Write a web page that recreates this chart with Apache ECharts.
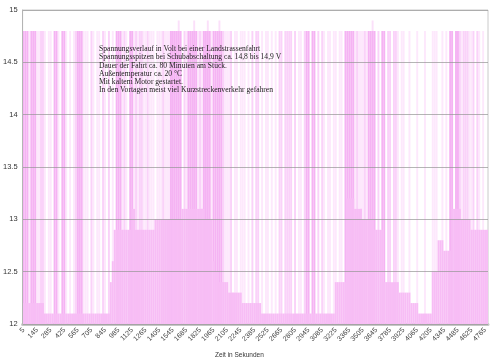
<!DOCTYPE html>
<html><head><meta charset="utf-8">
<script src="https://cdn.jsdelivr.net/npm/echarts@6/dist/echarts.min.js"></script>
<style>html,body{margin:0;padding:0;background:#fff}#c{width:500px;height:364px}</style>
</head><body><div id="c"></div>
<script>
// time axis: one column per 20 s, starting at 5 s
const startTime = 5, stepSeconds = 20, columnCount = 240;
const tickLabels = [5,145,285,425,565,705,845,985,1125,1265,1405,1545,1685,1825,1965,2105,2245,2385,2525,2665,2805,2945,3085,3225,3365,3505,3645,3785,3925,4065,4205,4345,4485,4625,4765];

// lower envelope of the voltage (V), one value per column
const baseVoltage = [
12.2,12.2,12.2,12.2,12.2,12.2,12.2,12.2,12.2,12.2,
12.2,12.1,12.1,12.1,12.1,12.1,12.1,12.1,12.1,12.1,
12.1,12.1,12.1,12.1,12.1,12.1,12.1,12.1,12.1,12.1,
12.1,12.1,12.1,12.1,12.1,12.1,12.1,12.1,12.1,12.1,
12.1,12.1,12.1,12.1,12.1,12.4,12.6,12.9,12.9,12.9,
12.9,12.9,12.9,12.9,12.9,12.9,13.1,13.1,12.9,12.9,
12.9,12.9,12.9,12.9,12.9,12.9,12.9,12.9,13.0,13.0,
13.0,13.0,13.0,13.0,13.0,13.0,13.0,13.0,13.0,13.0,
13.0,13.0,13.1,13.1,13.1,13.1,13.1,13.1,13.1,13.1,
13.1,13.1,13.1,13.1,13.0,13.0,13.0,13.0,12.6,12.5,
12.5,12.4,12.4,12.4,12.4,12.4,12.3,12.3,12.3,12.3,
12.3,12.3,12.3,12.2,12.2,12.2,12.2,12.2,12.2,12.2,
12.2,12.2,12.2,12.1,12.1,12.1,12.1,12.1,12.1,12.1,
12.1,12.1,12.1,12.1,12.1,12.1,12.1,12.1,12.1,12.1,
12.1,12.1,12.1,12.1,12.1,12.1,12.1,12.1,12.1,12.1,
12.1,12.1,12.1,12.1,12.1,12.1,12.1,12.1,12.1,12.1,
12.1,12.4,12.4,12.4,12.4,12.4,12.4,13.2,13.2,13.2,
13.2,13.1,13.1,13.1,13.1,13.0,13.0,13.0,13.0,13.0,
13.0,12.9,12.9,12.9,12.9,12.9,12.4,12.4,12.4,12.4,
12.4,12.4,12.4,12.4,12.3,12.3,12.3,12.3,12.3,12.3,
12.2,12.2,12.2,12.2,12.1,12.1,12.1,12.1,12.1,12.1,
12.1,12.5,12.5,12.5,12.8,12.8,12.8,12.7,12.7,12.7,
12.7,13.1,13.1,13.1,13.1,13.1,13.0,13.0,13.0,13.0,
13.0,12.9,12.9,12.9,12.9,12.9,12.9,12.9,12.9,12.9
];

// times (s) of columns with overrun spikes (14.8 V), by how densely they occur
const peaksFrequent = [5,25,45,85,105,125,325,345,405,425,565,585,605,965,985,1005,1105,1125,
1525,1545,1565,1585,1605,1625,1705,1725,1745,1765,1785,1865,1885,1905,1925,1965,1985,2005,2025,2045,
2925,2945,2985,3005,3325,3345,3365,3385,3405,3565,3585,3605,3625,3705,3725,4405,4425,4465,4485];
const peaksOccasional = [185,205,545,705,825,885,1045,1165,1205,1225,1285,1445,1665,1825,2065,2145,2365,2405,2425,
2645,2665,2705,2725,2745,2765,2805,2905,3045,3085,3445,3525,3665,3765,3785,3825,3845,4505,4545,4565,4585,4645,4685];
const peaksRare = [65,145,165,225,265,285,365,445,485,525,625,645,665,725,765,785,845,925,1025,1065,1145,1185,1245,1265,1305,1325,1345,1385,1405,1425,1465,1485,1505,
1685,1805,1845,1945,2085,2105,2125,2185,2205,2245,2265,2285,2325,2465,2505,2525,2565,2605,2845,2865,3105,3145,3165,3205,3225,3265,3285,3425,3465,3485,3505,3545,
3865,3905,3925,3985,4065,4145,4225,4245,4265,4325,4365,4525,4605,4625,4705,4745];
// columns where spikes reach 14.9 V
const peaks149 = [1605,1765,1905,2025,3605];
const peakVoltage = 14.8, peakVoltageMax = 14.9;

const noteLines = [
'Spannungsverlauf in Volt bei einer Landstrassenfahrt',
'Spannungsspitzen bei Schubabschaltung ca. 14,8 bis 14,9 V',
'Dauer der Fahrt ca. 80 Minuten am Stück.',
'Außentemperatur ca. 20 °C',
'Mit kaltem Motor gestartet.',
'In den Vortagen meist viel Kurzstreckenverkehr gefahren'
];
const axisTitle = 'Zeit in Sekunden';

const categories = [];
for (let i = 0; i < columnCount; i++) categories.push(String(startTime + i * stepSeconds));
function peakData(times, value) {
  const arr = new Array(columnCount).fill(null);
  times.forEach(t => { arr[Math.round((t - startTime) / stepSeconds)] = value; });
  return arr;
}

const chart = echarts.init(document.getElementById('c'), null, {renderer: 'canvas'});
const barCommon = {type: 'bar', barGap: '-100%', barCategoryGap: '0%', silent: true, animation: false};
chart.setOption({
  animation: false,
  grid: {left: 20, right: 12, top: 10, bottom: 40, show: true, borderColor: '#cacaca', borderWidth: 1},
  xAxis: {
    type: 'category', data: categories, boundaryGap: true,
    axisTick: {show: false},
    axisLine: {lineStyle: {color: '#c6c6c6', width: 3}},
    axisLabel: {
      interval: (idx, val) => tickLabels.includes(Number(val)),
      rotate: 45, fontSize: 7, color: '#444', margin: 5, fontFamily: 'Liberation Sans'
    }
  },
  yAxis: {
    type: 'value', min: 12, max: 15, interval: 0.5, z: 5,
    axisLine: {show: true, lineStyle: {color: '#b4b4b4'}},
    axisTick: {show: false},
    axisLabel: {fontSize: 7.5, color: '#333', margin: 5, fontFamily: 'Liberation Sans'},
    splitLine: {lineStyle: {color: 'rgba(150,150,150,0.7)', width: 1}}
  },
  series: [
    Object.assign({name: 'Spitze 14,9', data: peakData(peaks149, peakVoltageMax), itemStyle: {color: '#fbe0fa'}}, barCommon),
    Object.assign({name: 'selten', data: peakData(peaksRare, peakVoltage), itemStyle: {color: '#fde8fc'}}, barCommon),
    Object.assign({name: 'gelegentlich', data: peakData(peaksOccasional, peakVoltage), itemStyle: {color: '#fad2f9'}}, barCommon),
    Object.assign({name: 'häufig', data: peakData(peaksFrequent, peakVoltage), itemStyle: {color: '#f5b3f3'}}, barCommon),
    Object.assign({name: 'Grundspannung', data: baseVoltage, itemStyle: {color: '#f7bdf5'}}, barCommon)
  ],
  graphic: [
    {type: 'text', left: 99, top: 45, z: 10, silent: true,
     style: {text: noteLines.join('\n'), font: '7.6px "Liberation Serif"', lineHeight: 8.2, fill: '#222'}},
    {type: 'text', left: 215, top: 352, z: 10, silent: true,
     style: {text: axisTitle, font: '6.5px "Liberation Sans"', fill: '#333'}}
  ]
});
</script></body></html>
